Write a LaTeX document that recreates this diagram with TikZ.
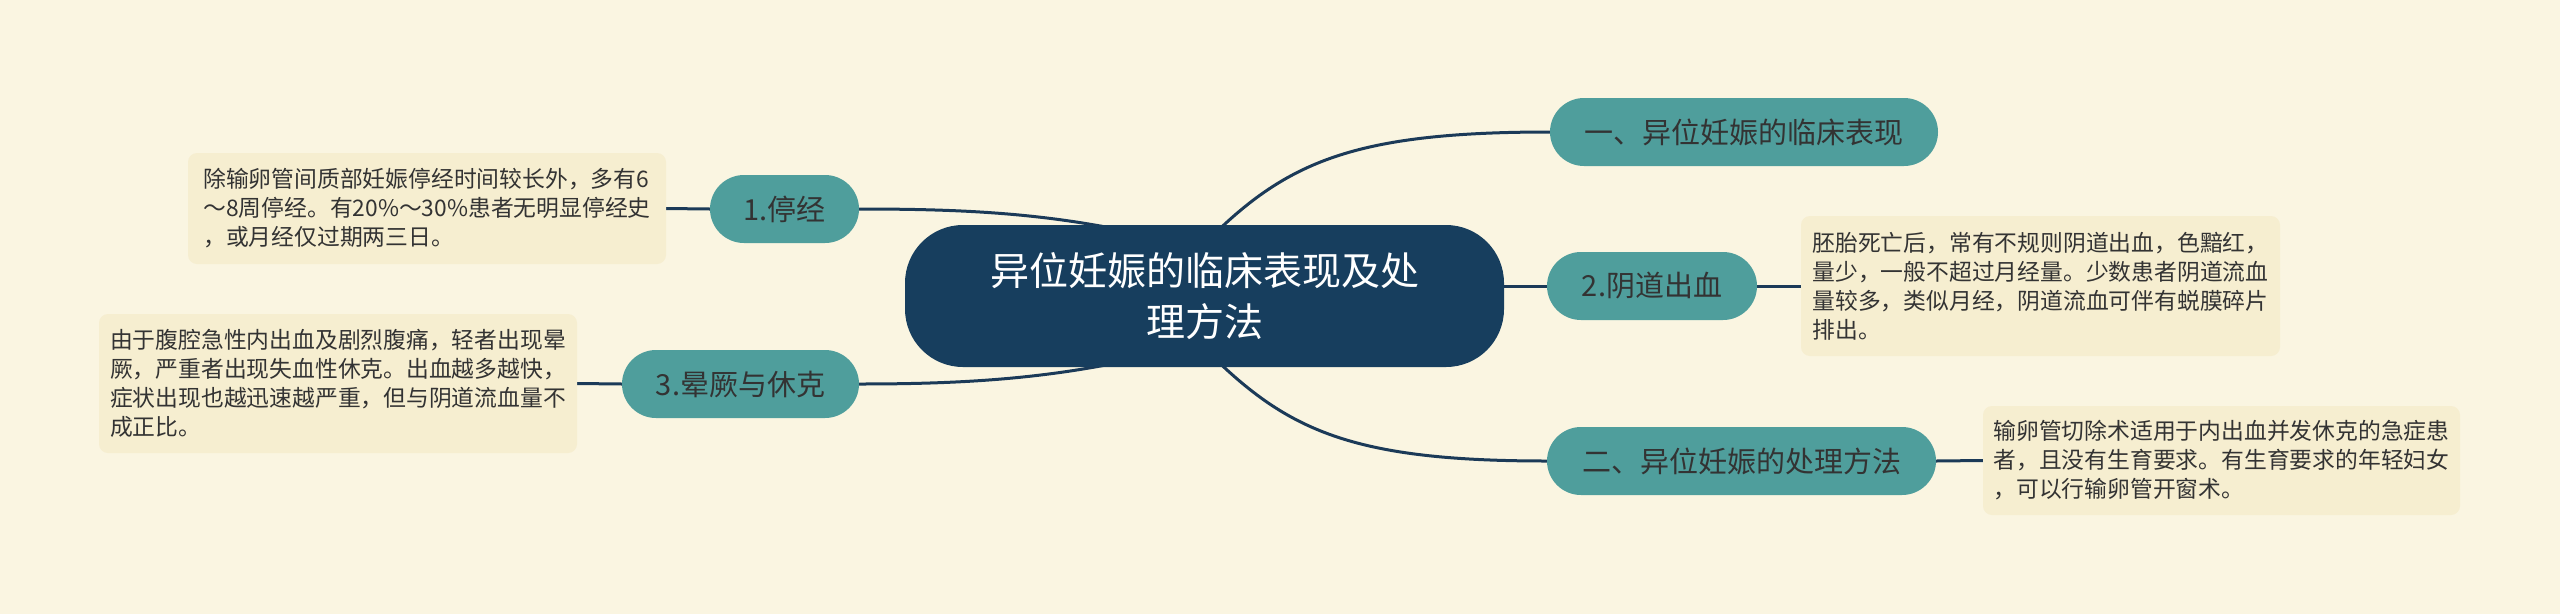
\documentclass[tikz,border=0pt]{standalone}
\usepackage{fontspec}
\setmainfont{Noto Sans CJK SC}
\usetikzlibrary{calc}
\definecolor{bgc}{HTML}{FAF5E1}
\definecolor{rootc}{HTML}{173E5E}
\definecolor{tealc}{HTML}{4F9E9C}
\definecolor{boxc}{HTML}{F6EED0}
\definecolor{linec}{HTML}{1B3A58}
\definecolor{txtc}{HTML}{333333}
\pgfdeclarelayer{bg}
\pgfsetlayers{bg,main}
\begin{document}
\begin{tikzpicture}[x=1pt,y=-1pt,
  rootbox/.style={fill=rootc, rounded corners=58pt, minimum width=599pt, minimum height=142pt, text=white, align=center, font=\fontsize{39}{51}\selectfont, inner sep=0pt},
  branch/.style={fill=tealc, rounded corners=34pt, minimum height=68pt, text=txtc, font=\fontsize{29}{34}\selectfont, inner sep=0pt},
  note/.style={fill=boxc, rounded corners=9pt, text=txtc, align=left, font=\fontsize{22.8}{29}\selectfont, inner sep=0pt},
  link/.style={draw=linec, line width=3pt}]
\useasboundingbox (0,0) rectangle (2560,614);

\node[rootbox] (root) at (1204.5,296) {异位妊娠的临床表现及处\\理方法};

\node[branch, minimum width=388pt] (btop) at (1744,132) {一、异位妊娠的临床表现};
\node[branch, minimum width=210pt] (b2) at (1652,286) {2.阴道出血};
\node[branch, minimum width=389pt] (bbot) at (1741.5,461) {二、异位妊娠的处理方法};
\node[branch, minimum width=149pt] (b1) at (784.5,209) {1.停经};
\node[branch, minimum width=237pt] (b3) at (740.5,384) {3.晕厥与休克};

\node[note, minimum width=478pt, minimum height=111pt] (t1) at (427,208.5)
  {除输卵管间质部妊娠停经时间较长外，多有6\\～8周停经。有20\%～30\%患者无明显停经史\\，或月经仅过期两三日。};
\node[note, minimum width=478pt, minimum height=139pt] (t3) at (338,383.5)
  {由于腹腔急性内出血及剧烈腹痛，轻者出现晕\\厥，严重者出现失血性休克。出血越多越快，\\症状出现也越迅速越严重，但与阴道流血量不\\成正比。};
\node[note, minimum width=479pt, minimum height=140pt] (t2) at (2040.5,286)
  {胚胎死亡后，常有不规则阴道出血，色黯红，\\量少，一般不超过月经量。少数患者阴道流血\\量较多，类似月经，阴道流血可伴有蜕膜碎片\\排出。};
\node[note, minimum width=477pt, minimum height=109pt] (t4) at (2221.5,460.5)
  {输卵管切除术适用于内出血并发休克的急症患\\者，且没有生育要求。有生育要求的年轻妇女\\，可以行输卵管开窗术。};

\begin{pgfonlayer}{bg}
\fill[bgc] (0,0) rectangle (2560,614);
\draw[link] ($(root.north)+(9,10)$) .. controls ($(root.north)+(86,-65)$) and ($(btop.west)+(-190,0)$) .. (btop.west);
\draw[link] ($(root.south)+(9,-10)$) .. controls ($(root.south)+(86,65)$) and ($(bbot.west)+(-190,0)$) .. (bbot.west);
\draw[link] (b1.east) .. controls ($(b1.east)+(101,0)$) and ($(root.north)+(-164.5,-12)$) .. ($(root.north)+(-74.5,7)$);
\draw[link] (b3.east) .. controls ($(b3.east)+(101,0)$) and ($(root.south)+(-164.5,12)$) .. ($(root.south)+(-74.5,-7)$);
\draw[link] (root.east |- b2.west) -- (b2.west);
\draw[link] (t1.east) -- (b1.west);
\draw[link] (t3.east) -- (b3.west);
\draw[link] (b2.east) -- (t2.west);
\draw[link] (bbot.east) -- (t4.west);
\end{pgfonlayer}
\end{tikzpicture}
\end{document}
